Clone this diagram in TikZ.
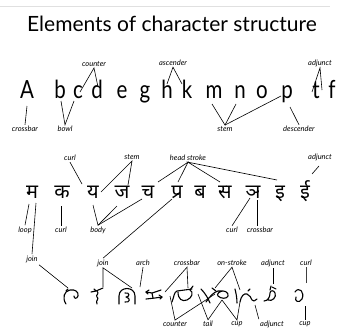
\documentclass[tikz,border=0pt]{standalone}
\usepackage{graphicx}
\usepackage{fontspec}
\setmainfont{Lato}
\newfontfamily\deva[Script=Devanagari]{Noto Sans}
\begin{document}
\begin{tikzpicture}[x=1pt,y=-1pt,
  lbl/.style={font=\fontsize{7.5}{9}\selectfont\itshape, inner sep=1.2pt},
  lat/.style={font=\fontsize{25}{28}\selectfont, anchor=base, inner sep=0pt},
  dev/.style={font=\deva\fontsize{20}{24}\selectfont, anchor=base, inner sep=0pt},
  con/.style={line width=0.6pt},
  gl/.style={line width=1.1pt, line cap=round, line join=round}]
\useasboundingbox (0,0) rectangle (339,329);
\draw[black!12, line width=0.6pt] (0,6) -- (330,6);
\node[font=\fontsize{21}{25}\selectfont, anchor=base, inner sep=0pt] (title) at (172,32) {Elements of character structure};

% ---------- row 1: Latin ----------
\foreach \c/\x [count=\i] in {A/27,b/60,c/78,d/97,e/122,g/145,h/167,k/187,m/214,n/240,o/262,p/287,t/316,f/332}
  \node[lat] (L\i) at (\x,98) {\scalebox{0.82}[1]{\c}};

\node[lbl] (counter1) at (94,64) {counter};
\node[lbl] (ascender) at (173,63) {ascender};
\node[lbl] (adjunct1) at (320,63) {adjunct};
\node[lbl] (crossbar1) at (25,129) {crossbar};
\node[lbl] (bowl) at (65,129) {bowl};
\node[lbl] (stem1) at (225,129) {stem};
\node[lbl] (descender) at (299,129) {descender};

\coordinate (c1a) at (80,92); \coordinate (c1b) at (98,87);
\coordinate (as1) at (167,84); \coordinate (as2) at (182,84);
\coordinate (ad1) at (312,92); \coordinate (ad2) at (322,90);
\coordinate (cb1) at (27,106);
\coordinate (bw1) at (61,101); \coordinate (bw2) at (74,101);
\coordinate (st1) at (212,104); \coordinate (st2) at (236,104); \coordinate (st3) at (281,96);
\coordinate (de1) at (290,107);

\draw[con] (c1a) -- (counter1.south) -- (c1b);
\draw[con] (as1) -- (ascender.south) -- (as2);
\draw[con] (ad1) -- (adjunct1.south) -- (ad2);
\draw[con] (cb1) -- (crossbar1.north);
\draw[con] (bw1) -- (bowl.north) -- (bw2);
\draw[con] (st1) -- (stem1.north) -- (st2);
\draw[con] (stem1.north) -- (st3);
\draw[con] (de1) -- (descender.north);

% ---------- row 2: Devanagari ----------
\foreach \c/\x [count=\i] in {म/32,क/62,य/93,ज/122,च/148,प्र/177,ब/200,स/225,ञ/253,इ/280,ई/305}
  \node[dev] (D\i) at (\x,198) {\c};

\node[lbl] (curl2a) at (70,158) {curl};
\node[lbl] (stem2) at (132,157) {stem};
\node[lbl] (head) at (188,158) {head stroke};
\node[lbl] (adjunct2) at (320,157) {adjunct};
\node[lbl] (loop) at (25,230) {loop};
\node[lbl] (curl2b) at (61,230) {curl};
\node[lbl] (body) at (98,230) {body};
\node[lbl] (curl2c) at (232,230) {curl};
\node[lbl] (crossbar2) at (260,230) {crossbar};

\coordinate (cu1) at (82,184);
\coordinate (sm1) at (101,192); \coordinate (sm2) at (128,185);
\coordinate (hs1) at (158,182); \coordinate (hs2) at (178,182);
\coordinate (hs3) at (220,182); \coordinate (hs4) at (277,180);
\coordinate (aj2a) at (319,166);
\coordinate (aj2) at (312,174);
\coordinate (lp1) at (29,204);
\coordinate (jn1) at (36,203);
\coordinate (cu2) at (61,206);
\coordinate (bd1) at (93,205); \coordinate (bd2) at (117,206); \coordinate (bd3) at (142,199);
\coordinate (jn2) at (172,199);
\coordinate (cu3) at (250,198);
\coordinate (cb2) at (257,200);

\draw[con] (curl2a.south) -- (cu1);
\draw[con] (sm1) -- (stem2.south) -- (sm2);
\draw[con] (hs1) -- (head.south) -- (hs2);
\draw[con] (hs3) -- (head.south) -- (hs4);
\draw[con] (aj2a) -- (aj2);
\draw[con] (lp1) -- (loop.north);
\draw[con] (cu2) -- (curl2b.north);
\draw[con] (bd1) -- (body.north) -- (bd2);
\draw[con] (body.north) -- (bd3);
\draw[con] (cu3) -- (curl2c.north);
\draw[con] (cb2) -- (cb2 |- crossbar2.north);

% ---------- row 3: labels ----------
\node[lbl] (join1) at (32,259) {join};
\node[lbl] (join2) at (103,263) {join};
\node[lbl] (arch) at (143,263) {arch};
\node[lbl] (crossbar3) at (187,263) {crossbar};
\node[lbl] (onstroke) at (232,263) {on-stroke};
\node[lbl] (adjunct3) at (273,263) {adjunct};
\node[lbl] (curl3) at (306,263) {curl};
\node[lbl] (counter3) at (175,324) {counter};
\node[lbl] (tail) at (208,324) {tail};
\node[lbl] (cup3) at (237,324) {cup};
\node[lbl] (adjunct4) at (272,324) {adjunct};
\node[lbl] (cup4) at (305,324) {cup};

\draw[con] (jn1) -- (join1.north);
\draw[con] (jn2) -- (join2.north);

\coordinate (g1) at (68,288);
\coordinate (j2a) at (103,287); \coordinate (j2b) at (132,288);
\coordinate (ar1) at (140,287);
\coordinate (cr1) at (165,292); \coordinate (cr2) at (188,288);
\coordinate (os1) at (215,288); \coordinate (os2) at (240,290);
\coordinate (aj3) at (273,284);
\coordinate (cl3) at (306,283);
\coordinate (co1) at (170,296); \coordinate (co2) at (215,294);
\coordinate (ta1) at (198,294); \coordinate (ta2) at (222,300);
\coordinate (cp1) at (222,300); \coordinate (cp2) at (240,302);
\coordinate (aj4) at (255,305);
\coordinate (cp3) at (305,306);

\draw[con] (join1.south east) ++(0,1) -- (g1);
\draw[con] (j2a) -- (join2.south) -- (j2b);
\draw[con] (ar1) -- (arch.south);
\draw[con] (cr1) -- (crossbar3.south) -- (cr2);
\draw[con] (os1) -- (onstroke.south) -- (os2);
\draw[con] (aj3) -- (adjunct3.south);
\draw[line width=1pt, black!75] (cl3) -- (curl3.south);
\draw[con] (co1) -- (counter3.north) -- (co2);
\draw[con] (ta1) -- (tail.north) -- (ta2);
\draw[con] (cp1) -- (cup3.north) -- (cp2);
\draw[con] (aj4) -- (adjunct4.north west);
\draw[con] (cp3) -- (cup4.north);

% ---------- row 3: glyphs ----------
% G1
\draw[gl] (66,304) .. controls (62,298) and (64,291) .. (70,290) .. controls (75,289) and (79,292) .. (78,296) .. controls (77,299) and (74,299) .. (74,296);
\draw[gl] (66,291) -- (68,289);
% G2
\draw[gl] (91,292) -- (96,291) .. controls (99,290) .. (103,288);
\draw[gl] (97,291) .. controls (100,294) and (95,295) .. (97,297) .. controls (100,299) and (95,300) .. (97,304);
\draw[gl] (94,289) -- (96,291);
% G3
\draw[gl] (119,304) -- (119,296) .. controls (119,286) and (135,286) .. (135,296) -- (135,304);
\draw[gl] (125,293) .. controls (130,292) and (130,297) .. (126,297) .. controls (131,298) and (130,303) .. (125,302);
% G4
\draw[gl] (146,292) -- (152,293) -- (161,290);
\draw[gl] (146,299) -- (155,298) -- (162,297);
\draw[gl] (152,293) -- (153,298);
\draw[gl] (149,290) -- (146,292) -- (148,294);
\draw[gl] (159,295) -- (162,297) -- (160,299);
% G5
\draw[gl] (172,302) .. controls (174,297) and (174,292) .. (177,291) -- (192,289);
\draw[gl] (178,292) .. controls (178,299) and (182,302) .. (187,300) .. controls (192,298) and (194,292) .. (190,290);
\draw[gl] (190,290) -- (193,286);
% G6
\draw[gl] (201,289) .. controls (205,293) and (208,298) .. (210,303);
\draw[gl] (206,302) .. controls (210,296) and (214,292) .. (218,291) .. controls (224,290) and (229,292) .. (228,296) .. controls (227,299) and (221,299) .. (218,296) .. controls (216,294) and (220,291) .. (223,291);
\draw[gl] (212,288) -- (216,291);
% G7
\draw[gl] (235,289) .. controls (236,293) and (237,298) .. (237,303);
\draw[gl] (240,302) .. controls (241,296) and (244,293) .. (247,294) .. controls (250,295) and (251,298) .. (252,300) .. controls (253,302) and (255,301) .. (257,299);
\draw[gl] (248,291) -- (250,289);
% G8
\draw[gl] (264,301) .. controls (268,301) and (270,297) .. (270,293) .. controls (270,290) and (274,290) .. (275,293) .. controls (277,297) and (272,302) .. (268,300);
\draw[gl] (272,287) -- (276,289);
\draw[gl] (270,290) -- (271,286);
% G9
\draw[gl] (295,292) .. controls (299,286) and (305,292) .. (302,299) .. controls (299,304) and (294,301) .. (296,297);
\end{tikzpicture}
\end{document}
